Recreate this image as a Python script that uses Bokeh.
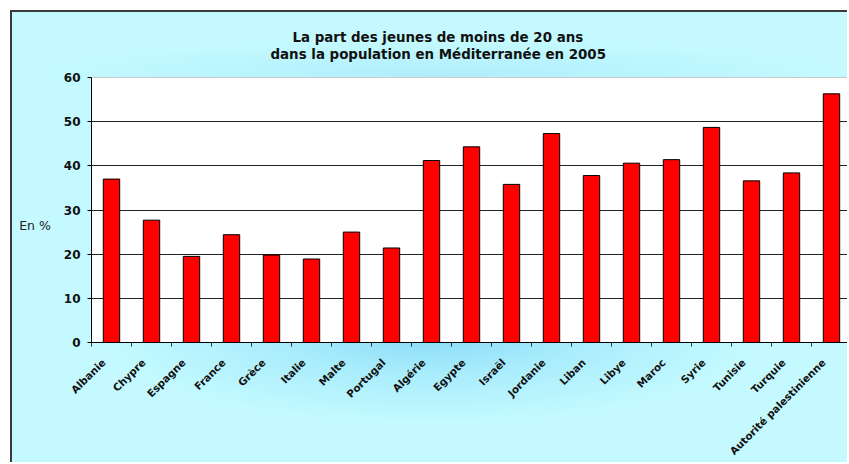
import math
from bokeh.plotting import figure
from bokeh.models import Range1d, FixedTicker, Title
from bokeh.embed import file_html
from bokeh.resources import INLINE

categories = ["Albanie", "Chypre", "Espagne", "France", "Grèce", "Italie", "Malte",
              "Portugal", "Algérie", "Egypte", "Israël", "Jordanie", "Liban", "Libye",
              "Maroc", "Syrie", "Tunisie", "Turquie", "Autorité palestinienne"]
values = [37.0, 27.7, 19.5, 24.4, 19.8, 18.9, 25.0, 21.4, 41.2, 44.3, 35.8, 47.3,
          37.8, 40.6, 41.4, 48.7, 36.6, 38.4, 56.3]
y_ticks = [0, 10, 20, 30, 40, 50, 60]
title_lines = ["La part des jeunes de moins de 20 ans",
               "dans la population en Méditerranée en 2005"]
y_label = "En %"

xs = list(range(len(categories)))
label_pos = [x - 0.2 for x in xs]   # rotated labels sit slightly left of the bars
FONT = "DejaVu Sans"

bg = ("radial-gradient(ellipse 330px 90px at 418px 322px, rgba(136,220,248,1) 0%, rgba(160,232,251,0.75) 45%, rgba(196,250,255,0) 100%), "
      "radial-gradient(ellipse 400px 34px at 428px 62px, rgba(176,238,252,1) 0%, rgba(196,250,255,0) 100%), "
      "#c4faff")

p = figure(width=837, height=452, output_backend="svg", toolbar_location=None,
           x_range=Range1d(-0.5, -0.5 + 758 / 40), y_range=Range1d(0, 60),
           min_border_left=79, min_border_right=0, min_border_top=65,
           min_border_bottom=122,
           background_fill_color="white", border_fill_color=None,
           outline_line_color="#c8c8c8",
           styles={"margin-left": "10px", "margin-top": "10px",
                   "border-left": "2px solid #3a3a3a", "border-top": "2px solid #3a3a3a",
                   "background": bg})

p.vbar(x=xs, top=values, bottom=0, width=0.41, fill_color="#ff0000",
       line_color="black", line_width=1)

# titles: second line nearest the frame (bottom padding lifts it), first line above
# padding order is (left, right, top, bottom)
p.add_layout(Title(text=title_lines[1], align="left", offset=179,
                   padding=(0, 0, 0, 16),
                   text_font=FONT, text_font_size="13.4px", text_font_style="bold",
                   text_color="#111111", standoff=0), "above")
p.add_layout(Title(text=title_lines[0], align="left", offset=201,
                   text_font=FONT, text_font_size="13.4px", text_font_style="bold",
                   text_color="#111111", standoff=0), "above")

# y axis
p.yaxis.ticker = FixedTicker(ticks=y_ticks)
p.yaxis.axis_line_color = "black"
p.yaxis.major_tick_line_color = "black"
p.yaxis.major_tick_out = 4
p.yaxis.major_tick_in = 0
p.yaxis.minor_tick_line_color = None
p.yaxis.major_label_text_font = FONT
p.yaxis.major_label_text_font_size = "12px"
p.yaxis.major_label_text_font_style = "bold"
p.yaxis.major_label_text_color = "#111111"
p.yaxis.major_label_standoff = 7
p.yaxis.axis_label = "\n" + y_label
p.yaxis.axis_label_orientation = "horizontal"
p.yaxis.axis_label_text_font = FONT
p.yaxis.axis_label_text_font_size = "12.5px"
p.yaxis.axis_label_text_line_height = 2.0
p.yaxis.axis_label_text_font_style = "normal"
p.yaxis.axis_label_text_color = "#222222"
p.yaxis.axis_label_standoff = 10

# x axis: boundary ticks as minor ticks, category names on invisible major ticks
p.xaxis.ticker = FixedTicker(ticks=label_pos,
                             minor_ticks=[i - 0.5 for i in range(len(categories) + 1)])
p.xaxis.major_label_overrides = {pos: c for pos, c in zip(label_pos, categories)}
p.xaxis.axis_line_color = "black"
p.xaxis.major_tick_line_color = None
p.xaxis.major_tick_out = 0
p.xaxis.major_tick_in = 0
p.xaxis.minor_tick_line_color = "#333333"
p.xaxis.minor_tick_out = 4
p.xaxis.minor_tick_in = 0
p.xaxis.major_label_orientation = math.pi / 4
p.xaxis.major_label_text_font = FONT
p.xaxis.major_label_text_font_size = "10.3px"
p.xaxis.major_label_text_font_style = "bold"
p.xaxis.major_label_text_color = "#111111"
p.xaxis.major_label_standoff = 14

# grid
p.xgrid.visible = False
p.ygrid.ticker = FixedTicker(ticks=[10, 20, 30, 40, 50])
p.ygrid.grid_line_color = "#222222"
p.ygrid.grid_line_width = 1

open("out.html", "w").write(file_html(p, INLINE))
